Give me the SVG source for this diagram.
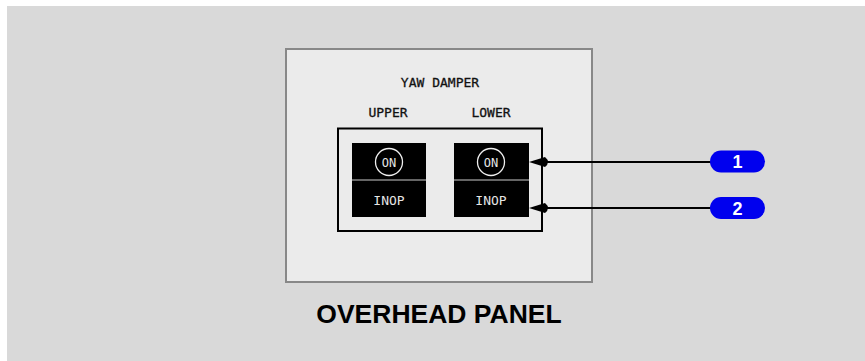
<svg xmlns="http://www.w3.org/2000/svg" width="865" height="361" viewBox="0 0 865 361">
<style>
.mono{font-family:"DejaVu Sans Mono","Liberation Mono",monospace;font-size:13px;text-anchor:middle;}
.lbl{fill:#111;stroke:#111;stroke-width:0.3;}
.sw{fill:#000;}
.swt{fill:#e6e6e6;}
.div{stroke:#666;stroke-width:2;}
.conn{stroke:#000;stroke-width:2;fill:none;}
.head{fill:#000;}
.badge{fill:#0000ee;}
.bt{font-family:"Liberation Sans",Arial,sans-serif;font-weight:bold;font-size:18px;fill:#fff;text-anchor:middle;}
</style>
<rect x="7" y="6" width="858" height="355" fill="#d9d9d9"/>
<g id="panel">
<rect x="286" y="49" width="306" height="233" fill="#ebebeb" stroke="#888" stroke-width="2"/>
<text class="mono lbl" x="440" y="87">YAW DAMPER</text>
<text class="mono lbl" x="388" y="117">UPPER</text>
<text class="mono lbl" x="491" y="117">LOWER</text>
<rect x="338" y="128.5" width="204" height="102.5" fill="none" stroke="#000" stroke-width="2"/>
</g>
<g id="switch-upper">
<rect class="sw" x="352" y="143" width="74" height="74"/>
<line class="div" x1="352" y1="180" x2="426" y2="180"/>
<circle cx="389" cy="162" r="13.5" fill="none" stroke="#eee" stroke-width="1.3"/>
<text class="mono swt" x="389" y="166.5" style="font-size:12px">ON</text>
<text class="mono swt" x="389" y="205">INOP</text>
</g>
<g id="switch-lower">
<rect class="sw" x="454" y="143" width="75" height="74"/>
<line class="div" x1="454" y1="180" x2="529" y2="180"/>
<circle cx="491" cy="162" r="13.5" fill="none" stroke="#eee" stroke-width="1.3"/>
<text class="mono swt" x="491" y="166.5" style="font-size:12px">ON</text>
<text class="mono swt" x="491" y="205">INOP</text>
</g>
<g id="connectors">
<line class="conn" x1="546" y1="162" x2="711" y2="162"/>
<path class="head" d="M529,162 L545,157 Q551,162 545,167 Z"/>
<line class="conn" x1="546" y1="208" x2="711" y2="208"/>
<path class="head" d="M529,208 L545,203 Q551,208 545,213 Z"/>
</g>
<g id="badge-1">
<rect class="badge" x="710" y="150.5" width="55" height="22" rx="11"/>
<text class="bt" x="737.5" y="168">1</text>
</g>
<g id="badge-2">
<rect class="badge" x="710" y="197" width="55" height="22" rx="11"/>
<text class="bt" x="737.5" y="214.5">2</text>
</g>
<g id="title">
<text x="439" y="323" style="font-family:'Liberation Sans',Arial,sans-serif;font-weight:bold;font-size:26.5px;text-anchor:middle;fill:#000">OVERHEAD PANEL</text>
</g>
</svg>
